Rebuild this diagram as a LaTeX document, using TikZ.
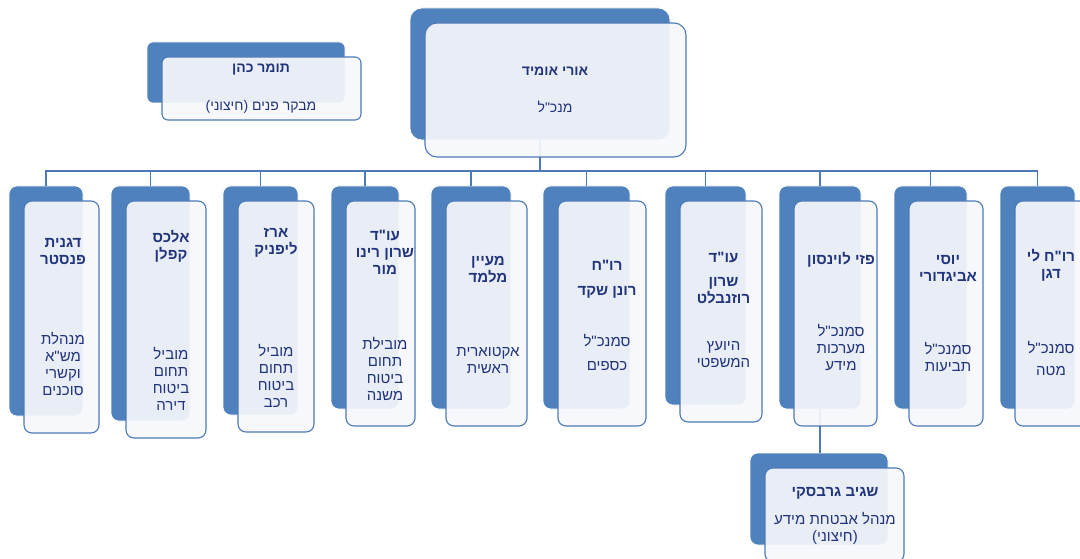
\documentclass[tikz,border=0pt]{standalone}
\usepackage{fontspec}
\newfontfamily\hebfont[Script=Hebrew]{Liberation Sans}
\TeXXeTstate=1
\usepackage{xcolor}
\usepackage{tikz}
\usetikzlibrary{fit}
\definecolor{boxblue}{RGB}{79,129,189}
\definecolor{lineblue}{RGB}{76,122,182}
\definecolor{paleface}{RGB}{247,248,251}
\definecolor{inkblue}{RGB}{33,52,124}
\def\heb#1{\beginR #1\endR}
\def\boxlist{m/410/8/670/140/12, t/147/42/345/103/6,
	1/9/186/83/416/8, 2/111/186/190/421/8, 3/223/186/298/415/8,
	4/331/186/399/409/8, 5/431/186/511/409/8, 6/543/186/630/409/8,
	7/665/186/746/405/8, 8/779/186/861/409/8, 9/894/186/967/409/8,
	10/1000/186/1075/409/8, s/750/453/888/545/8}
\tikzset{
	backbox/.style={draw=white, line width=0.6pt, fill=boxblue, inner sep=0pt},
	frontbox/.style={draw=lineblue, line width=1.1pt, fill=paleface, fill opacity=0.92, inner sep=0pt},
	conn/.style={draw=lineblue, line width=1.1pt},
	who/.style={text=inkblue, font=\hebfont\bfseries\fontsize{15}{17}\selectfont, align=center, inner sep=0pt},
	what/.style={text=inkblue, font=\hebfont\fontsize{15}{17}\selectfont, align=center, inner sep=0pt},
	topwho/.style={who, font=\hebfont\bfseries\fontsize{14}{17}\selectfont},
	topwhat/.style={what, font=\hebfont\fontsize{14}{17}\selectfont}
}

\begin{document}
\begin{tikzpicture}[x=1pt,y=-1pt]
	\clip (0,0) rectangle (1080,559);
	\fill[white] (0,0) rectangle (1080,559);
	% back boxes
	\foreach \n/\xa/\ya/\xb/\yb/\r in \boxlist
		\node[backbox, rounded corners=\r pt, fit={(\xa,\ya) (\xb,\yb)}] (b\n) {};
	% connectors
	\coordinate (bus) at (540,171);
	\draw[conn] (bm.south) -- (bus);
	\draw[conn] (b1.north) |- (bus) -| (b10.north);
	\foreach \n in {2,...,9}
		\draw[conn] (b\n.north) -- (b\n.north |- bus);
	\draw[conn] (b8.south) -- (b8.south |- bs.north);
	% front boxes
	\foreach \n/\xa/\ya/\xb/\yb/\r in \boxlist
		\node[frontbox, rounded corners=\r pt, fit={(\xa+15,\ya+15) (\xb+16,\yb+17)}] (f\n) {};
	% texts
	\node[topwho] (nm) at (555,71) {\heb{אורי אומיד}};
	\node[topwhat] (tm) at (555,107) {\heb{מנכ"ל}};
	\node[topwho] (nt) at (261,70) {\heb{תומר כהן}};
	\node[topwhat] (tt) at (261,107) {\heb{מבקר פנים (חיצוני)}};
	\node[who] (n1) at (63,252) {\heb{דגנית}\\\heb{פנסטר}};
	\node[what] (t1) at (63,363.5) {\heb{מנהלת}\\\heb{מש"א}\\\heb{וקשרי}\\\heb{סוכנים}};
	\node[who] (n2) at (171,246) {\heb{אלכס}\\\heb{קפלן}};
	\node[what] (t2) at (171,378.5) {\heb{מוביל}\\\heb{תחום}\\\heb{ביטוח}\\\heb{דירה}};
	\node[who] (n3) at (276,243) {\heb{ארז}\\\heb{ליפניק}};
	\node[what] (t3) at (276,376) {\heb{מוביל}\\\heb{תחום}\\\heb{ביטוח}\\\heb{רכב}};
	\node[who] (n4) at (385,252) {\heb{עו"ד}\\\heb{שרון רינו}\\\heb{מור}};
	\node[what] (t4) at (385,369) {\heb{מובילת}\\\heb{תחום}\\\heb{ביטוח}\\\heb{משנה}};
	\node[who] (n5) at (488,269.5) {\heb{מעיין}\\\heb{מלמד}};
	\node[what] (t5) at (488,360) {\heb{אקטוארית}\\\heb{ראשית}};
	\node[who] (n6) at (607,279) {\heb{רו"ח}\\[8pt]\heb{רונן שקד}};
	\node[what] (t6) at (607,352) {\heb{סמנכ"ל}\\[7pt]\heb{כספים}};
	\node[who] (n7) at (723.5,278.5) {\heb{עו"ד}\\[7pt]\heb{שרון}\\\heb{רוזנבלט}};
	\node[what] (t7) at (723.5,355) {\heb{היועץ}\\\heb{המשפטי}};
	\node[who] (n8) at (841,260) {\heb{פזי לוינסון}};
	\node[what] (t8) at (841,348) {\heb{סמנכ"ל}\\\heb{מערכות}\\\heb{מידע}};
	\node[who] (n9) at (948,268) {\heb{יוסי}\\\heb{אביגדורי}};
	\node[what] (t9) at (948,357) {\heb{סמנכ"ל}\\\heb{תביעות}};
	\node[who] (n10) at (1051,265) {\heb{רו"ח לי}\\\heb{דגן}};
	\node[what] (t10) at (1051,358) {\heb{סמנכ"ל}\\[5pt]\heb{מטה}};
	\node[who] (ns) at (835,493) {\heb{שגיב גרבסקי}};
	\node[what] (ts) at (835,528.5) {\heb{מנהל אבטחת מידע}\\\heb{(חיצוני)}};
\end{tikzpicture}
\end{document}
